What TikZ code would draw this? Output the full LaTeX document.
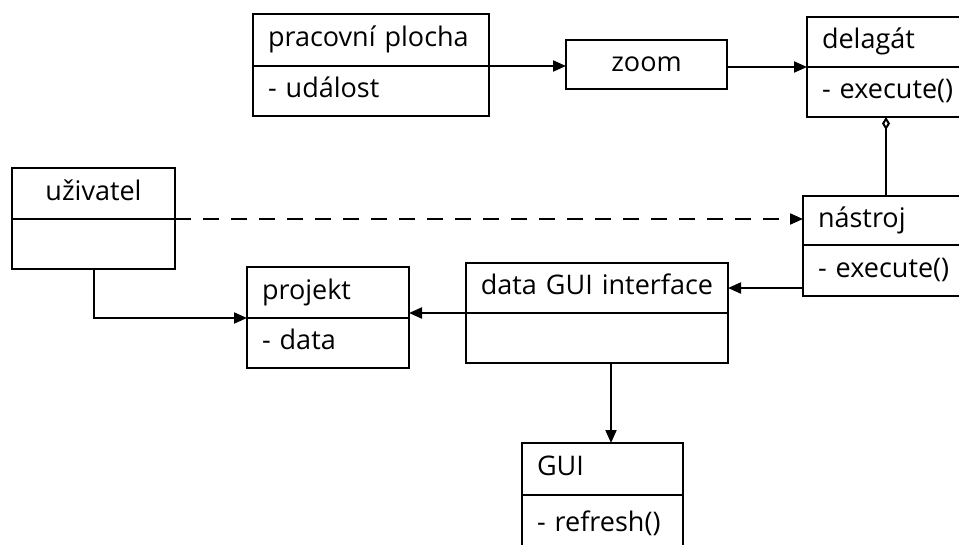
\documentclass[tikz,border=0pt]{standalone}
\usepackage{fontspec}
\setmainfont{Open Sans}
\usetikzlibrary{arrows.meta}

\begin{document}
\begin{tikzpicture}[x=1pt, y=-1pt,
        box/.style={draw, line width=2.4pt, anchor=north west, inner xsep=15pt, inner ysep=0pt, outer sep=0pt,
            align=left, font=\fontsize{27}{31}\selectfont, text height=19pt, text depth=6pt},
        conn/.style={line width=2pt, -{Triangle[length=13pt, width=11pt]}}]
        \clip (0, 0) rectangle (959, 544);

        % classes
        \node[box, text width=206pt, minimum height=52pt] (plocha) at (253, 14) {pracovní plocha};
        \node[box, text width=206pt, minimum height=50pt] (plochab) at (plocha.south west) {- událost};

        \node[box, align=center, text width=131pt, minimum height=49pt] (zoom) at (566, 40) {zoom};

        \node[box, text width=138pt, minimum height=50pt] (delagat) at (807, 17) {delagát};
        \node[box, text width=138pt, minimum height=50pt] (delagatb) at (delagat.south west) {- execute()};

        \node[box, align=center, text width=133pt, minimum height=51pt] (uzivatel) at (12, 168) {uživatel};
        \node[box, text width=133pt, minimum height=50pt] (uzivatelb) at (uzivatel.south west) {};

        \node[box, text width=140pt, minimum height=49pt] (nastroj) at (803, 196) {nástroj};
        \node[box, text width=140pt, minimum height=51pt] (nastrojb) at (nastroj.south west) {- execute()};

        \node[box, text width=132pt, minimum height=51pt] (projekt) at (247, 267) {projekt};
        \node[box, text width=132pt, minimum height=50pt] (projektb) at (projekt.south west) {- data};

        \node[box, align=center, inner xsep=6pt, text width=250pt, minimum height=50pt] (dgui) at (466, 263) {data GUI interface};
        \node[box, inner xsep=6pt, text width=250pt, minimum height=50pt] (dguib) at (dgui.south west) {};

        \node[box, text width=131pt, minimum height=52pt] (gui) at (522, 443) {GUI};
        \node[box, text width=131pt, minimum height=60pt] (guib) at (gui.south west) {- refresh()};

        % connectors
        \draw[conn] (plocha.south east) -- (plocha.south east -| zoom.west);
        \draw[conn] (delagat.south west -| zoom.east) -- (delagat.south west);
        \draw[line width=2pt, -{Diamond[open, length=13pt, width=8pt]}]
            ([xshift=83pt]nastroj.north west) -- ([xshift=83pt]nastroj.north west |- delagatb.south);
        \draw[conn, dash pattern=on 16pt off 12pt] (uzivatel.south east) -- (uzivatel.south east -| nastroj.west);
        \draw[conn] (uzivatelb.south) |- (projekt.south west);
        \draw[conn] (dgui.south west) -- (dgui.south west -| projekt.east);
        \draw[conn] (dgui.east -| nastrojb.west) -- (dgui.east);
        \draw[conn] ([xshift=14pt]dguib.south) -- ([xshift=14pt]dguib.south |- gui.north);
    \end{tikzpicture}
\end{document}
